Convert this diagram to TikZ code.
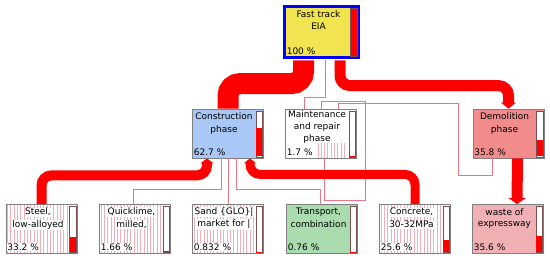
\documentclass[tikz,border=0pt]{standalone}
\usepackage{fontspec}
\setmainfont{DejaVu Sans}
\usetikzlibrary{arrows.meta,calc}

\definecolor{ftyellow}{RGB}{241,228,80}
\definecolor{consblue}{RGB}{170,200,245}
\definecolor{demored}{RGB}{242,140,140}
\definecolor{transgreen}{RGB}{170,220,175}
\definecolor{wastepink}{RGB}{240,176,180}
\definecolor{stripepink}{RGB}{242,175,185}
\definecolor{linkpink}{RGB}{232,120,135}
\definecolor{boxgray}{RGB}{128,128,128}
\definecolor{framedark}{RGB}{120,80,80}
\definecolor{flowred}{RGB}{255,0,0}

\tikzset{
  proc/.style={draw=boxgray, line width=0.8pt, minimum width=71pt, minimum height=49pt, inner sep=0pt},
  txt/.style={font=\fontsize{9}{10}\selectfont, inner sep=0.6pt, text=black},
  txtw/.style={txt, fill=white},
  pct/.style={txt, anchor=west},
  flow/.style={draw=flowred, rounded corners=10pt},
  link/.style={draw=linkpink, line width=0.8pt},
  stripe/.style={draw=stripepink, line width=0.9pt},
  barframe/.style={draw=framedark, fill=white, line width=0.6pt},
}

% level bar at the right side of a box
\newcommand{\levelbar}[2]{%
  \draw[barframe] ([xshift=-8pt,yshift=-2.5pt]#1.north east) rectangle ([xshift=-1.5pt,yshift=1.5pt]#1.south east);
  \fill[flowred] ([xshift=-7.6pt,yshift=1.9pt]#1.south east) rectangle
    ($([xshift=-1.9pt,yshift=1.9pt]#1.south east)!#2!([xshift=-1.9pt,yshift=-2.9pt]#1.north east)$);}

% hatching of a box
\newcommand{\hatchbox}[1]{%
  \begin{scope}
    \clip ([xshift=1pt,yshift=-1pt]#1.north west) rectangle ([xshift=-9pt,yshift=1pt]#1.south east);
    \foreach \k in {0,...,19}
      \draw[stripe] ([xshift=2pt+\k*3.3pt]#1.north west) -- ([xshift=2pt+\k*3.3pt]#1.south west);
  \end{scope}}

\begin{document}
\begin{tikzpicture}[x=1pt,y=-1pt]
\useasboundingbox (0,0) rectangle (550,261);

% boxes
\node[proc, draw=blue, line width=3pt, fill=ftyellow, minimum width=74pt, minimum height=51pt] (ft) at (321.5,32) {};
\node[proc, fill=consblue] (cons) at (228,133.5) {};
\node[proc, fill=white] (maint) at (321,133.5) {};
\node[proc, fill=demored] (demo) at (508.5,133.5) {};
\node[proc, fill=white] (steel) at (41.5,229) {};
\node[proc, fill=white] (quick) at (135,229) {};
\node[proc, fill=white] (sand) at (228,229) {};
\node[proc, fill=transgreen] (trans) at (322,229) {};
\node[proc, fill=white] (conc) at (415,229) {};
\node[proc, fill=wastepink] (waste) at (508,229) {};

\hatchbox{steel}
\hatchbox{quick}
\hatchbox{sand}
\hatchbox{conc}
\begin{scope}
  \clip ([xshift=-4pt,yshift=15pt]maint.south) rectangle ([xshift=-11pt,yshift=1pt]maint.south east);
  \foreach \k in {0,...,9}
    \draw[stripe] ([xshift=\k*3.3pt-3pt]maint.south) -- ([xshift=\k*3.3pt-3pt,yshift=16pt]maint.south);
\end{scope}

% texts
\node[txt] (ft-a) at ([xshift=-3pt,yshift=-9.5pt]ft.north) {Fast track};
\node[txt] (ft-b) at ([xshift=-3pt,yshift=-21pt]ft.north) {EIA};
\node[pct] (ft-p) at ([xshift=3pt,yshift=7.5pt]ft.south west) {100 \%};

\node[txt] (cons-a) at ([xshift=-4pt,yshift=-8pt]cons.north) {Construction};
\node[txt] (cons-b) at ([xshift=-4pt,yshift=-21.5pt]cons.north) {phase};
\node[pct] (cons-p) at ([xshift=1pt,yshift=6pt]cons.south west) {62.7 \%};

\node[txt] (maint-a) at ([xshift=-4pt,yshift=-6pt]maint.north) {Maintenance};
\node[txt] (maint-b) at ([xshift=-4pt,yshift=-18pt]maint.north) {and repair};
\node[txt] (maint-c) at ([xshift=-4pt,yshift=-30pt]maint.north) {phase};
\node[pct] (maint-p) at ([xshift=1pt,yshift=6pt]maint.south west) {1.7 \%};

\node[txt] (demo-a) at ([xshift=-4pt,yshift=-8pt]demo.north) {Demolition};
\node[txt] (demo-b) at ([xshift=-4pt,yshift=-21.5pt]demo.north) {phase};
\node[pct] (demo-p) at ([xshift=1pt,yshift=6pt]demo.south west) {35.8 \%};

\node[txtw] (steel-a) at ([xshift=-3.5pt,yshift=-8pt]steel.north) {Steel,};
\node[txtw] (steel-b) at ([xshift=-3.5pt,yshift=-20.5pt]steel.north) {low-alloyed};
\node[pct, fill=white] (steel-p) at ([xshift=1pt,yshift=7pt]steel.south west) {33.2 \%};

\node[txtw] (quick-a) at ([xshift=-3.5pt,yshift=-8pt]quick.north) {Quicklime,};
\node[txtw] (quick-b) at ([xshift=-3.5pt,yshift=-20.5pt]quick.north) {milled,};
\node[pct, fill=white] (quick-p) at ([xshift=1pt,yshift=7pt]quick.south west) {1.66 \%};

\node[txtw] (sand-a) at ([xshift=-4pt,yshift=-8pt]sand.north) {Sand \{GLO\}|};
\node[txtw] (sand-b) at ([xshift=-4pt,yshift=-20.5pt]sand.north) {market for |};
\node[pct, fill=white] (sand-p) at ([xshift=1pt,yshift=7pt]sand.south west) {0.832 \%};

\node[txt] (trans-a) at ([xshift=-3.5pt,yshift=-8pt]trans.north) {Transport,};
\node[txt] (trans-b) at ([xshift=-3.5pt,yshift=-20.5pt]trans.north) {combination};
\node[pct] (trans-p) at ([xshift=1pt,yshift=7pt]trans.south west) {0.76 \%};

\node[txtw] (conc-a) at ([xshift=-3.5pt,yshift=-8pt]conc.north) {Concrete,};
\node[txtw] (conc-b) at ([xshift=-3.5pt,yshift=-20.5pt]conc.north) {30-32MPa};
\node[pct, fill=white] (conc-p) at ([xshift=1pt,yshift=7pt]conc.south west) {25.6 \%};

\node[txt] (waste-a) at ([xshift=-3.5pt,yshift=-8pt]waste.north) {waste of};
\node[txt] (waste-b) at ([xshift=-3.5pt,yshift=-20.5pt]waste.north) {expressway};
\node[pct] (waste-p) at ([xshift=1pt,yshift=7pt]waste.south west) {35.6 \%};

% bars
\draw[barframe, fill=flowred] ([xshift=-9.5pt,yshift=-3pt]ft.north east) rectangle ([xshift=-3pt,yshift=3pt]ft.south east);
\levelbar{cons}{0.627}
\levelbar{maint}{0.017}
\levelbar{demo}{0.358}
\levelbar{steel}{0.332}
\levelbar{quick}{0.0166}
\levelbar{sand}{0.00832}
\levelbar{trans}{0.0076}
\levelbar{conc}{0.256}
\levelbar{waste}{0.356}

% thin links
\draw[link] ([xshift=3.5pt,yshift=-1.5pt]ft.south) |- ([xshift=-17pt,yshift=11pt]maint.north) -- ([xshift=-17pt]maint.north);
\draw[link] ([xshift=3pt]maint.south) |- ([xshift=44pt,yshift=-42pt]maint.south) |- ([yshift=7pt]maint.north) -- (maint.north);
\draw[link] ([xshift=17pt]maint.north) -- ([xshift=17pt,yshift=5pt]maint.north) -| ([xshift=-50.5pt,yshift=-17pt]demo.south) -| ([xshift=-16.5pt]demo.south);
\draw[link] ([xshift=-7pt]cons.south) |- ([xshift=-2pt,yshift=15pt]quick.north) -- ([xshift=-2pt]quick.north);
\draw[link] (cons.south) -- (sand.north);
\draw[link] ([xshift=8pt]cons.south) |- ([xshift=-2pt,yshift=15pt]trans.north) -- ([xshift=-2pt]trans.north);

% main flows
\draw[flow, line width=21pt, rounded corners=12pt] ([xshift=-18pt,yshift=-1.5pt]ft.south) |- ([yshift=25pt]cons.north) -- (cons.north);
\draw[flow, line width=11pt, -{Triangle[width=15pt,length=6pt]}] ([xshift=18.5pt,yshift=-1.5pt]ft.south) |- ([yshift=23pt]demo.north) -- (demo.north);
\draw[flow, line width=10pt, -{Triangle[width=13pt,length=5pt]}] (steel.north) |- ([xshift=-21pt,yshift=-17pt]cons.south) -- ([xshift=-21pt]cons.south);
\draw[flow, line width=9pt, -{Triangle[width=12pt,length=5pt]}] (conc.north) |- ([xshift=22pt,yshift=-16pt]cons.south) -- ([xshift=22pt]cons.south);
\draw[flow, line width=11pt, -{Triangle[width=17pt,length=6pt]}] ([xshift=9pt]demo.south) -- ([xshift=9pt]waste.north);
\end{tikzpicture}
\end{document}
